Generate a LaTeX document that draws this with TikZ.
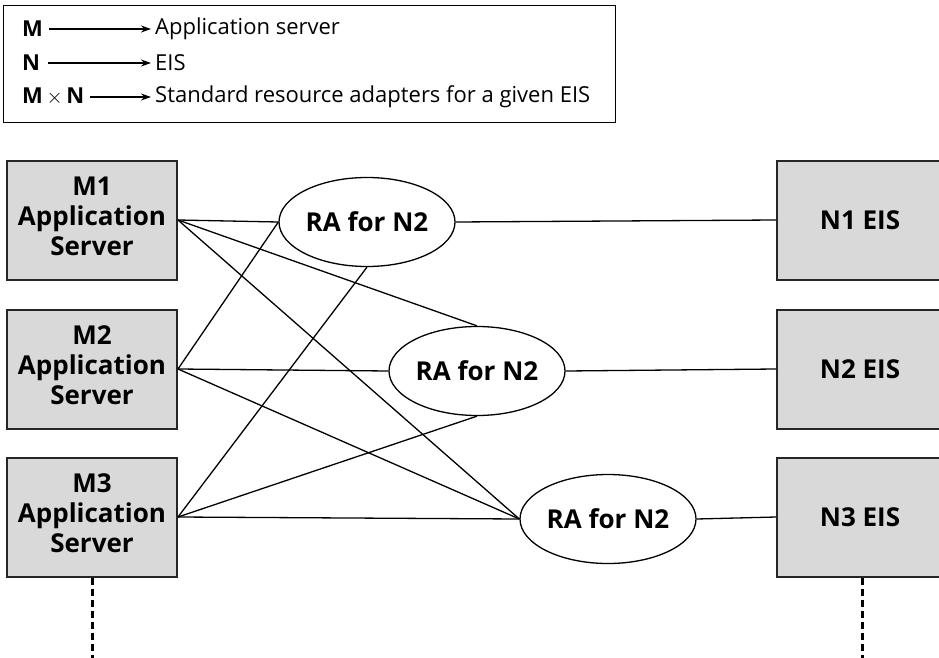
\documentclass[tikz,border=0pt]{standalone}
\usepackage{fontspec}
\setmainfont{Open Sans}
\usetikzlibrary{shapes.geometric,arrows.meta}
\begin{document}
\begin{tikzpicture}[x=1pt,y=-1pt,
  srvbox/.style={draw=black!85, line width=2pt, fill=black!15, minimum width=170pt, minimum height=119pt, align=center, font=\fontsize{26}{30}\selectfont\bfseries, inner sep=0pt},
  eisbox/.style={draw=black!85, line width=2pt, fill=black!15, minimum width=166pt, minimum height=119pt, align=center, font=\fontsize{26}{30}\selectfont\bfseries, inner sep=0pt},
  ra/.style={ellipse, draw, line width=1.3pt, fill=white, minimum width=176pt, minimum height=89pt, inner sep=0pt, font=\fontsize{26}{30}\selectfont\bfseries},
  link/.style={line width=1.3pt},
  dots/.style={line width=3pt, dash pattern=on 7pt off 4pt},
  legtxt/.style={font=\fontsize{22}{26}\selectfont, inner sep=4pt},
  legarrow/.style={line width=1.2pt, -{Stealth[length=10pt,width=7pt]}}
]
\useasboundingbox (0,0) rectangle (939,658);
% legend
\node[draw, line width=1.4pt, minimum width=612pt, minimum height=117pt, anchor=north west, inner sep=0pt] (legend) at (3,5) {};
\node[legtxt, anchor=west, font=\fontsize{22}{26}\selectfont\bfseries] (lm) at (18,29) {M};
\node[legtxt, anchor=west] (la) at (151,29) {Application server};
\node[legtxt, anchor=west, font=\fontsize{22}{26}\selectfont\bfseries] (ln) at (18,63) {N};
\node[legtxt, anchor=west] (lb) at (151,63) {EIS};
\node[legtxt, anchor=west, font=\fontsize{22}{26}\selectfont\bfseries] (lmn) at (18,97) {M\,{\mdseries$\times$}\,N};
\node[legtxt, anchor=west] (lc) at (151,97) {Standard resource adapters for a given EIS};
\draw[legarrow] (lm.east) ++(2,0) coordinate (lms) -- (la.west);
\draw[legarrow] (ln.east) ++(4,0) coordinate (lns) -- (lb.west);
\draw[legarrow] (lmn.east) ++(2,0) coordinate (lmns) -- (lc.west);
% servers
\node[srvbox] (m1) at (92,220) {M1\\Application\\Server\rule[-8pt]{0pt}{8pt}};
\node[srvbox] (m2) at (92,369) {M2\\Application\\Server\rule[-8pt]{0pt}{8pt}};
\node[srvbox] (m3) at (92,517) {M3\\Application\\Server\rule[-8pt]{0pt}{8pt}};
% EIS
\node[eisbox] (n1) at (860,220) {N1 EIS};
\node[eisbox] (n2) at (860,369) {N2 EIS};
\node[eisbox] (n3) at (860,517) {N3 EIS};
% adapters
\node[ra] (e1) at (367,222) {RA for N2};
\node[ra] (e2) at (477,371) {RA for N2};
\node[ra] (e3) at (608,519) {RA for N2};
\draw[link] (m1.east) -- (e1.west);
\draw[link] (m1.east) -- (e2.north);
\draw[link] (m1.east) -- (e3.west);
\draw[link] (m2.east) -- (e1.west);
\draw[link] (m2.east) -- (e2.west);
\draw[link] (m2.east) -- (e3.west);
\draw[link] (m3.east) -- (e1.south);
\draw[link] (m3.east) -- (e2.south);
\draw[link] (m3.east) -- (e3.west);
\draw[link] (e1.east) -- (n1.west);
\draw[link] (e2.east) -- (n2.west);
\draw[link] (e3.east) -- (n3.west);
% dotted continuation
\coordinate (md) at (92,658);
\coordinate (nd) at (862,658);
\draw[dots] (m3.south) -- (md);
\draw[dots] (n3.south -| nd) -- (nd);
\end{tikzpicture}
\end{document}
